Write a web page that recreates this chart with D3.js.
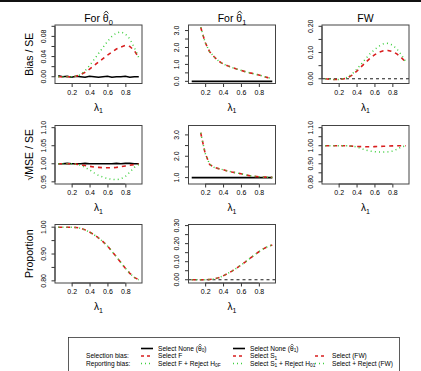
<!DOCTYPE html>
<html>
<head>
<meta charset="utf-8">
<script src="https://cdn.jsdelivr.net/npm/d3@7"></script>
<style>
  body { margin: 0; background: #fff; }
  svg text { font-family: "Liberation Sans", Arial, sans-serif; fill: #000; }
</style>
</head>
<body>
<div class="vis"></div>
<script>
// lambda_1 grid
const lambda = [0.05, 0.10, 0.15, 0.20, 0.25, 0.30, 0.35, 0.40, 0.45, 0.50,
  0.55, 0.60, 0.65, 0.70, 0.75, 0.80, 0.85, 0.90, 0.95];

// Bias / SE
const biasT0None = [0.002, 0.000, 0.001, -0.001, 0.001, 0.000, -0.001, 0.001, 0.000, -0.001,
  0.000, 0.001, -0.001, 0.000, 0.000, 0.001, -0.001, 0.000, 0.000];
const biasT0SelF = [0.000, 0.000, 0.000, 0.000, 0.001, 0.004, 0.009, 0.015, 0.022, 0.029,
  0.036, 0.043, 0.049, 0.055, 0.059, 0.062, 0.060, 0.052, 0.038];
const biasT0RejF = [0.000, 0.000, 0.000, 0.000, 0.001, 0.004, 0.012, 0.022, 0.034, 0.046,
  0.058, 0.070, 0.080, 0.087, 0.089, 0.085, 0.075, 0.058, 0.038];
const biasT1None = [0, 0, 0, 0, 0, 0, 0, 0, 0, 0, 0, 0, 0, 0, 0, 0, 0, 0, 0];
const biasT1SelS1 = [null, null, 3.20, 2.30, 1.75, 1.45, 1.20, 1.03, 0.92, 0.82,
  0.73, 0.65, 0.57, 0.50, 0.44, 0.37, 0.30, 0.22, 0.15];
const biasT1RejS1 = [null, null, 3.20, 2.30, 1.75, 1.45, 1.20, 1.03, 0.92, 0.82,
  0.73, 0.65, 0.57, 0.50, 0.44, 0.37, 0.30, 0.22, 0.15];
const biasFWSel = [0.000, -0.002, -0.003, -0.003, -0.001, 0.004, 0.014, 0.028, 0.045, 0.062,
  0.078, 0.091, 0.101, 0.107, 0.108, 0.104, 0.095, 0.081, 0.063];
const biasFWRej = [0.000, -0.002, -0.003, -0.003, 0.000, 0.006, 0.018, 0.035, 0.055, 0.076,
  0.095, 0.111, 0.124, 0.133, 0.135, 0.129, 0.114, 0.092, 0.065];

// sqrt(MSE) / SE
const mseT0None = [1.000, 1.000, 1.001, 1.000, 1.000, 1.000, 1.001, 1.000, 1.000, 1.000,
  1.000, 1.000, 1.000, 1.001, 1.000, 1.001, 1.001, 1.000, 1.000];
const mseT0SelF = [1.000, 1.000, 1.000, 1.000, 0.999, 0.997, 0.995, 0.993, 0.991, 0.990,
  0.989, 0.989, 0.989, 0.990, 0.992, 0.994, 0.996, 0.998, 0.999];
const mseT0RejF = [1.000, 1.000, 1.000, 1.000, 0.999, 0.996, 0.990, 0.983, 0.975, 0.968,
  0.963, 0.959, 0.957, 0.956, 0.958, 0.965, 0.977, 0.990, 0.998];
const mseT1None = [1, 1, 1, 1, 1, 1, 1, 1, 1, 1, 1, 1, 1, 1, 1, 1, 1, 1, 1];
const mseT1SelS1 = [null, null, 3.10, 2.14, 1.62, 1.48, 1.42, 1.37, 1.31, 1.26,
  1.22, 1.18, 1.13, 1.09, 1.06, 1.04, 1.03, 1.02, 1.01];
const mseT1RejS1 = [null, null, 3.10, 2.14, 1.62, 1.48, 1.42, 1.37, 1.31, 1.26,
  1.22, 1.18, 1.13, 1.09, 1.06, 1.04, 1.03, 1.02, 1.01];
const mseFWSel = [1.000, 1.000, 1.000, 1.000, 1.000, 0.999, 0.998, 0.996, 0.995, 0.994,
  0.994, 0.995, 0.996, 0.997, 0.998, 0.999, 1.000, 1.000, 1.000];
const mseFWRej = [1.000, 1.000, 1.000, 1.000, 1.000, 1.000, 0.998, 0.993, 0.985, 0.976,
  0.970, 0.967, 0.965, 0.965, 0.966, 0.970, 0.980, 0.993, 1.000];

// Proportion selected
const propT0Sel = [1.000, 1.000, 1.000, 1.000, 0.999, 0.996, 0.990, 0.982, 0.972, 0.960,
  0.946, 0.930, 0.910, 0.890, 0.868, 0.847, 0.828, 0.813, 0.804];
const propT0Rej = [1.000, 1.000, 1.000, 1.000, 0.999, 0.996, 0.990, 0.982, 0.972, 0.960,
  0.946, 0.930, 0.910, 0.890, 0.868, 0.847, 0.828, 0.813, 0.804];
const propT1Sel = [0.000, 0.000, 0.000, 0.000, 0.001, 0.004, 0.011, 0.021, 0.034, 0.048,
  0.064, 0.081, 0.099, 0.118, 0.137, 0.155, 0.171, 0.184, 0.193];
const propT1Rej = [0.000, 0.000, 0.000, 0.000, 0.001, 0.004, 0.011, 0.021, 0.034, 0.048,
  0.064, 0.081, 0.099, 0.118, 0.137, 0.155, 0.171, 0.184, 0.193];

// axis ticks and labels
const xTicks = [0.2, 0.4, 0.6, 0.8];
const yTicksBias0 = [0, 0.02, 0.04, 0.06, 0.08, 0.10];
const yLabelsBias0 = ['0.00', '', '0.04', '', '0.08', ''];
const yTicksBias1 = [0, 0.5, 1, 1.5, 2, 2.5, 3];
const yLabelsBias1 = ['0.0', '', '1.0', '', '2.0', '', '3.0'];
const yTicksBiasFW = [0, 0.05, 0.10, 0.15, 0.20];
const yLabelsBiasFW = ['0.00', '', '0.10', '', '0.20'];
const yTicksMse0 = [0.95, 1.00, 1.05, 1.10];
const yLabelsMse0 = ['0.95', '1.00', '1.05', '1.10'];
const yTicksMse1 = [1, 1.5, 2, 2.5, 3];
const yLabelsMse1 = ['1.0', '', '2.0', '', '3.0'];
const yTicksMseFW = [0.80, 0.85, 0.90, 0.95, 1.00, 1.05, 1.10];
const yLabelsMseFW = ['0.80', '', '0.90', '', '1.00', '', '1.10'];
const yTicksProp0 = [0.80, 0.85, 0.90, 0.95, 1.00];
const yLabelsProp0 = ['0.80', '', '0.90', '', '1.00'];
const yTicksProp1 = [0, 0.05, 0.10, 0.15, 0.20, 0.25, 0.30];
const yLabelsProp1 = ['0.00', '', '0.10', '', '0.20', '', '0.30'];

const rowTitles = ['Bias / SE', '\u221AMSE / SE', 'Proportion'];

const W = 421, H = 371;
const colLeft = [55, 188.5, 322];
const rowTop = [25, 125.5, 224.5];
const boxW = 87, boxH = 58.5;
const RED = '#d81e1e', GREEN = '#3fcf3f';

const svg = d3.select('.vis').append('svg')
  .attr('width', W).attr('height', H);

svg.append('rect').attr('x', 0).attr('y', 0).attr('width', W).attr('height', 2).attr('fill', '#111');

const x = d3.scaleLinear().domain([0.014, 0.986]);

const panels = [
  { r: 0, c: 0, title: 'θ0', y: [-0.0134, 0.1026], ticks: yTicksBias0, labels: yLabelsBias0,
    series: [[biasT0None, 'none'], [biasT0SelF, 'sel'], [biasT0RejF, 'rej']] },
  { r: 0, c: 1, title: 'θ1', y: [-0.128, 3.328], ticks: yTicksBias1, labels: yLabelsBias1,
    series: [[biasT1None, 'none'], [biasT1SelS1, 'sel'], [biasT1RejS1, 'rej']] },
  { r: 0, c: 2, title: 'FW', y: [-0.018, 0.205], ticks: yTicksBiasFW, labels: yLabelsBiasFW, ref: 0,
    series: [[biasFWSel, 'sel'], [biasFWRej, 'rej']] },
  { r: 1, c: 0, y: [0.944, 1.106], ticks: yTicksMse0, labels: yLabelsMse0,
    series: [[mseT0None, 'none'], [mseT0SelF, 'sel'], [mseT0RejF, 'rej']] },
  { r: 1, c: 1, y: [0.70, 3.44], ticks: yTicksMse1, labels: yLabelsMse1,
    series: [[mseT1None, 'none'], [mseT1SelS1, 'sel'], [mseT1RejS1, 'rej']] },
  { r: 1, c: 2, y: [0.788, 1.112], ticks: yTicksMseFW, labels: yLabelsMseFW,
    series: [[mseFWSel, 'sel'], [mseFWRej, 'rej']] },
  { r: 2, c: 0, y: [0.792, 1.010], ticks: yTicksProp0, labels: yLabelsProp0,
    series: [[propT0Sel, 'sel'], [propT0Rej, 'rej']] },
  { r: 2, c: 1, y: [-0.018, 0.306], ticks: yTicksProp1, labels: yLabelsProp1, ref: 0,
    series: [[propT1Sel, 'sel'], [propT1Rej, 'rej']] }
];

const styles = {
  none: { stroke: '#000', width: 1.6, dash: null },
  sel: { stroke: RED, width: 1.6, dash: '4,4' },
  rej: { stroke: GREEN, width: 1.5, dash: '1,3.2' }
};

// draw a small circumflex above character `idx` of a text node
const addHat = (parent, textSel, idx, w) => {
  const box = textSel.node().getExtentOfChar(idx);
  const cx = box.x + box.width / 2 + w * 0.1;
  const top = box.y + box.height * 0.12;
  parent.append('path')
    .attr('d', `M${cx - w / 2},${top}L${cx},${top - w * 0.55}L${cx + w / 2},${top}`)
    .attr('fill', 'none').attr('stroke', '#000').attr('stroke-width', w * 0.18);
};

panels.forEach((p) => {
  const g = svg.append('g')
    .attr('transform', `translate(${colLeft[p.c]},${rowTop[p.r]})`);
  const xs = x.copy().range([0, boxW]);
  const ys = d3.scaleLinear().domain(p.y).range([boxH, 0]);

  // x axis
  const xa = g.append('g')
    .attr('transform', `translate(0,${boxH})`)
    .call(d3.axisBottom(xs).tickValues(xTicks).tickFormat(d3.format('.1f')).tickSizeOuter(0).tickSize(3.5).tickPadding(3));
  xa.select('.domain').attr('d', `M${xs(0.2)},0H${xs(0.8)}`).attr('stroke', '#333');
  xa.selectAll('line').attr('stroke', '#333');
  xa.selectAll('text').attr('font-size', 7).attr('fill', '#222');

  // y axis
  const ya = g.append('g')
    .call(d3.axisLeft(ys).tickValues(p.ticks).tickFormat((d, i) => p.labels[i]).tickSizeOuter(0).tickSize(3.5).tickPadding(3));
  ya.select('.domain')
    .attr('d', `M0,${ys(p.ticks[0])}V${ys(p.ticks[p.ticks.length - 1])}`).attr('stroke', '#333');
  ya.selectAll('line').attr('stroke', '#333');
  ya.selectAll('text')
    .attr('font-size', 7).attr('fill', '#222')
    .attr('text-anchor', 'middle')
    .attr('x', 0).attr('dy', 0)
    .attr('transform', (d) => `translate(-9.5,${ys(d)}) rotate(-90)`)
    .attr('y', 0);
  ya.selectAll('.tick').attr('transform', null);
  ya.selectAll('.tick line').attr('transform', (d) => `translate(0,${ys(d)})`);

  // reference line
  if (p.ref !== undefined) {
    g.append('line')
      .attr('x1', 0).attr('x2', boxW)
      .attr('y1', ys(p.ref)).attr('y2', ys(p.ref))
      .attr('stroke', '#000').attr('stroke-width', 0.9).attr('stroke-dasharray', '3,3');
  }

  const clipId = `clip-${p.r}-${p.c}`;
  g.append('clipPath').attr('id', clipId)
    .append('rect').attr('width', boxW).attr('height', boxH);
  const lines = g.append('g').attr('clip-path', `url(#${clipId})`);
  p.series.forEach(([vals, kind]) => {
    const st = styles[kind];
    lines.append('path')
      .datum(vals.map((v, i) => [lambda[i], v]))
      .attr('fill', 'none')
      .attr('stroke', st.stroke)
      .attr('stroke-width', st.width)
      .attr('stroke-dasharray', st.dash)
      .attr('d', d3.line()
        .defined((d) => d[1] !== null)
        .x((d) => xs(d[0]))
        .y((d) => ys(d[1])));
  });

  // box
  g.append('rect')
    .attr('width', boxW).attr('height', boxH)
    .attr('fill', 'none').attr('stroke', '#444').attr('stroke-width', 1);

  // x label: lambda_1
  const xl = g.append('text')
    .attr('x', boxW / 2).attr('y', boxH + 27)
    .attr('text-anchor', 'middle').attr('font-size', 10);
  xl.append('tspan').text('λ');
  xl.append('tspan').attr('font-size', 7).attr('dy', 2.5).text('1');

  // title
  if (p.title) {
    const t = g.append('text')
      .attr('x', boxW / 2).attr('y', -3)
      .attr('text-anchor', 'middle').attr('font-size', 10.5);
    if (p.title === 'FW') {
      t.text('FW');
    } else {
      t.append('tspan').text('For θ');
      t.append('tspan').attr('font-size', 7.5).attr('dy', 2.5).text(p.title.slice(1));
      addHat(g, t, 4, 4.5);
    }
  }

  // row title
  if (p.c === 0) {
    svg.append('text')
      .attr('transform', `translate(33,${rowTop[p.r] + boxH / 2}) rotate(-90)`)
      .attr('text-anchor', 'middle').attr('font-size', 10.5)
      .text(rowTitles[p.r]);
  }
});

// legend
const leg = svg.append('g');
leg.append('rect')
  .attr('x', 68.5).attr('y', 337.5).attr('width', 331).attr('height', 40)
  .attr('fill', 'none').attr('stroke', '#333').attr('stroke-width', 0.8);

const legRowsY = [348.5, 356, 363.5];
const legCols = [
  { x: 141, items: [['none', 'Select None (θ', '0', ')'], ['sel', 'Select F'], ['rej', 'Select F + Reject H', '0F', '']] },
  { x: 233, items: [['none', 'Select None (θ', '1', ')'], ['sel', 'Select S', '1', ''], ['rej', 'Select S', '1', ' + Reject H', '01']] },
  { x: 315, items: [null, ['sel', 'Select (FW)'], ['rej', 'Select + Reject (FW)']] }
];
const legRowNames = ['', 'Selection bias:', 'Reporting bias:'];

legRowNames.forEach((name, i) => {
  if (name) {
    leg.append('text').attr('x', 86).attr('y', legRowsY[i] + 2.3)
      .attr('font-size', 6.6).text(name);
  }
});

legCols.forEach((col) => {
  col.items.forEach((item, i) => {
    if (!item) return;
    const st = styles[item[0]];
    leg.append('line')
      .attr('x1', col.x).attr('x2', col.x + 12)
      .attr('y1', legRowsY[i]).attr('y2', legRowsY[i])
      .attr('stroke', st.stroke).attr('stroke-width', st.width)
      .attr('stroke-dasharray', st.dash ? (item[0] === 'sel' ? '3,3' : '1,3') : null);
    const t = leg.append('text').attr('x', col.x + 17).attr('y', legRowsY[i] + 2.3)
      .attr('font-size', 6.6);
    item.slice(1).forEach((part, j) => {
      if (j % 2 === 0) {
        t.append('tspan').attr('dy', j === 0 ? 0 : -1.5).text(part);
      } else {
        t.append('tspan').attr('font-size', 4.8).attr('dy', 1.5).text(part);
      }
    });
    if (item[1].endsWith('(θ')) {
      addHat(leg, t, item[1].length - 1, 3);
    }
  });
});
</script>
</body>
</html>
